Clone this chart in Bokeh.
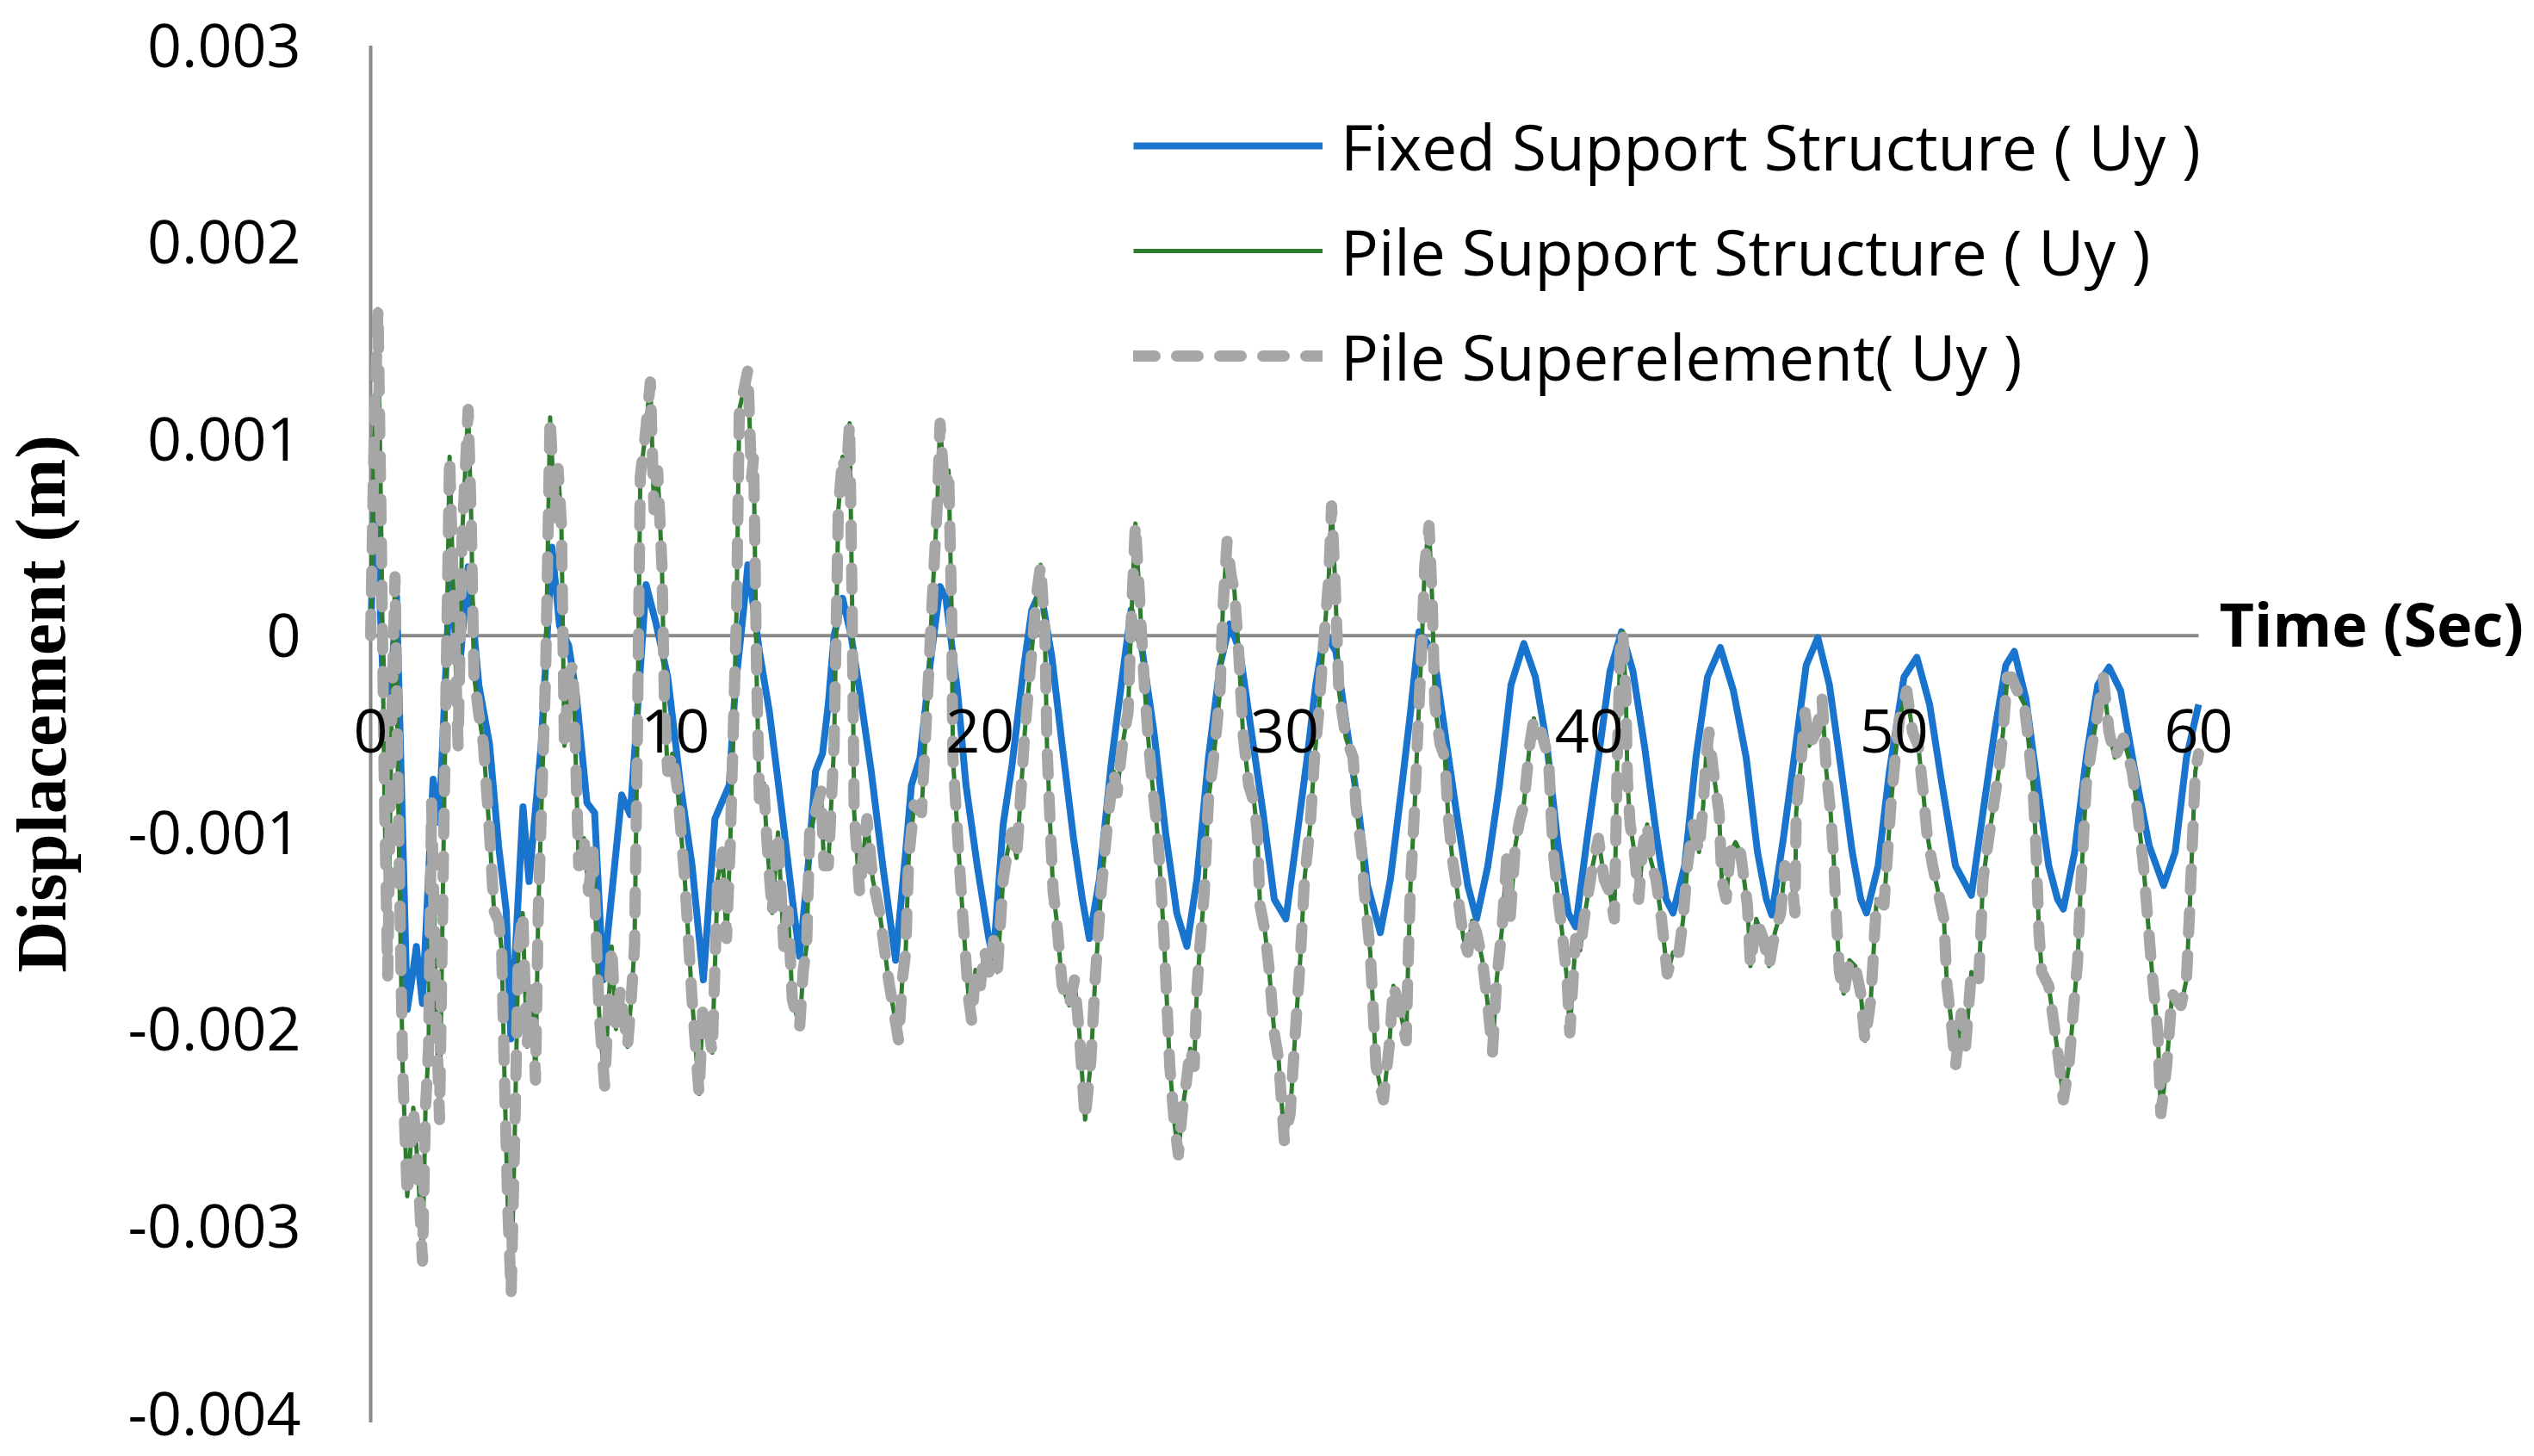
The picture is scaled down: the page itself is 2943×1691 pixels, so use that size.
from bokeh.plotting import figure
from bokeh.models import Legend, LegendItem, Range1d
from bokeh.core.properties import value
from bokeh.embed import file_html
from bokeh.resources import INLINE

# ---------------- data ----------------
x_ticks = [0, 10, 20, 30, 40, 50, 60]
x_tick_labels = ["0", "10", "20", "30", "40", "50", "60"]
y_ticks = [-0.004, -0.003, -0.002, -0.001, 0.0, 0.001, 0.002, 0.003]
y_tick_labels = ["-0.004", "-0.003", "-0.002", "-0.001", "0", "0.001", "0.002", "0.003"]

fixed_t = [0.00, 0.15, 0.40, 0.65, 0.85, 1.05, 1.20, 1.35, 1.50, 1.70, 2.05, 2.25, 2.60, 2.90,
           3.20, 3.55, 3.90, 4.20, 4.45, 4.60, 5.00, 5.20, 5.60, 5.95, 6.20, 6.50, 6.75, 7.10,
           7.35, 7.63, 8.24, 8.52, 8.75, 9.04, 9.37, 9.75, 10.17, 10.55, 10.92, 11.30, 11.77,
           11.96, 12.24, 12.38, 12.76, 13.09, 13.47, 13.84, 14.08, 14.36, 14.60, 14.83, 15.02,
           15.21, 15.49, 15.77, 16.05, 16.43, 16.81, 17.23, 17.56, 17.75, 18.03, 18.36, 18.69,
           18.88, 19.26, 19.54, 19.91, 20.29, 20.43, 20.76, 21.05, 21.42, 21.70, 21.99, 22.36,
           22.70, 23.07, 23.36, 23.59, 23.92, 24.30, 24.67, 24.96, 25.33, 25.71, 26.09, 26.46,
           26.79, 27.12, 27.50, 27.88, 28.20, 28.53, 28.91, 29.29, 29.66, 30.04, 30.36, 30.74,
           31.02, 31.31, 31.68, 32.06, 32.44, 32.72, 33.14, 33.47, 33.85, 34.13, 34.41, 34.88,
           35.26, 35.64, 36.01, 36.30, 36.67, 37.05, 37.43, 37.85, 38.23, 38.61, 38.98, 39.31,
           39.55, 39.93, 40.30, 40.68, 41.06, 41.43, 41.81, 42.19, 42.52, 42.75, 43.13, 43.50,
           43.88, 44.30, 44.73, 45.15, 45.52, 45.81, 45.99, 46.37, 46.75, 47.12, 47.50, 47.88,
           48.25, 48.63, 48.91, 49.10, 49.48, 49.85, 50.33, 50.75, 51.17, 51.55, 52.02, 52.54,
           52.92, 53.30, 53.67, 53.95, 54.33, 54.71, 55.08, 55.37, 55.56, 55.93, 56.31, 56.69,
           57.06, 57.44, 57.91, 58.38, 58.85, 59.23, 59.60, 60.00]
fixed_uy = [0.00000, 0.00080, -0.00020, -0.00030, 0.00020, -0.00100, -0.00190, -0.00175, -0.00158,
            -0.00187, -0.00073, -0.00095, 0.00030, -0.00020, 0.00035, -0.00025, -0.00055, -0.00107,
            -0.00140, -0.00205, -0.00087, -0.00125, -0.00055, 0.00045, 0.00005, -0.00005, -0.00030,
            -0.00085, -0.00090, -0.00175, -0.00081, -0.00091, -0.00040, 0.00026, 0.00006, -0.00021,
            -0.00076, -0.00117, -0.00175, -0.00093, -0.00076, -0.00028, 0.00013, 0.00036, -0.00008,
            -0.00039, -0.00086, -0.00134, -0.00163, -0.00117, -0.00069, -0.00060, -0.00035, 0.00000,
            0.00019, 0.00000, -0.00028, -0.00069, -0.00117, -0.00165, -0.00110, -0.00076, -0.00062,
            -0.00015, 0.00025, 0.00019, -0.00028, -0.00076, -0.00117, -0.00154, -0.00165, -0.00096,
            -0.00066, -0.00018, 0.00013, 0.00023, -0.00011, -0.00056, -0.00103, -0.00134, -0.00154,
            -0.00124, -0.00066, -0.00021, 0.00013, -0.00008, -0.00049, -0.00100, -0.00141, -0.00158,
            -0.00124, -0.00062, -0.00015, 0.00006, -0.00008, -0.00049, -0.00090, -0.00134, -0.00144,
            -0.00107, -0.00062, -0.00025, 0.00002, -0.00008, -0.00049, -0.00090, -0.00127, -0.00151,
            -0.00124, -0.00076, -0.00039, 0.00002, -0.00008, -0.00049, -0.00090, -0.00127, -0.00144,
            -0.00117, -0.00076, -0.00025, -0.00004, -0.00021, -0.00056, -0.00107, -0.00141, -0.00148,
            -0.00103, -0.00062, -0.00018, 0.00002, -0.00018, -0.00056, -0.00100, -0.00134, -0.00141,
            -0.00117, -0.00062, -0.00021, -0.00006, -0.00028, -0.00062, -0.00110, -0.00134, -0.00142,
            -0.00103, -0.00059, -0.00015, -0.00001, -0.00025, -0.00066, -0.00110, -0.00134, -0.00141,
            -0.00117, -0.00069, -0.00021, -0.00011, -0.00035, -0.00073, -0.00117, -0.00132, -0.00090,
            -0.00049, -0.00015, -0.00008, -0.00032, -0.00076, -0.00117, -0.00134, -0.00139, -0.00110,
            -0.00062, -0.00025, -0.00016, -0.00028, -0.00069, -0.00107, -0.00127, -0.00110, -0.00062,
            -0.00035]

pile_t = [0.00, 0.10, 0.24, 0.35, 0.45, 0.56, 0.68, 0.80, 0.92, 1.05, 1.20, 1.40, 1.55, 1.70, 1.80,
          1.90, 2.00, 2.15, 2.26, 2.40, 2.59, 2.72, 2.87, 3.00, 3.20, 3.30, 3.39, 3.55, 3.70, 3.90,
          4.05, 4.20, 4.30, 4.40, 4.50, 4.61, 4.72, 4.85, 4.99, 5.13, 5.30, 5.41, 5.50, 5.62, 5.74,
          5.89, 6.05, 6.15, 6.26, 6.36, 6.50, 6.64, 6.83, 7.00, 7.15, 7.30, 7.50, 7.68, 7.80, 7.91,
          8.05, 8.20, 8.43, 8.55, 8.66, 8.75, 8.85, 9.00, 9.18, 9.30, 9.42, 9.56, 9.65, 9.75, 9.90,
          10.08, 10.31, 10.55, 10.78, 10.90, 11.02, 11.21, 11.39, 11.55, 11.68, 11.80, 12.01, 12.10,
          12.25, 12.38, 12.50, 12.57, 12.67, 12.76, 12.90, 13.00, 13.18, 13.37, 13.56, 13.70, 13.84,
          14.08, 14.20, 14.31, 14.41, 14.60, 14.78, 14.88, 15.02, 15.21, 15.35, 15.49, 15.60, 15.72,
          15.80, 15.87, 16.05, 16.29, 16.48, 16.71, 17.00, 17.33, 17.45, 17.56, 17.66, 17.84, 18.08,
          18.22, 18.46, 18.60, 18.69, 18.85, 18.97, 19.07, 19.11, 19.26, 19.44, 19.63, 19.73, 19.85,
          20.01, 20.15, 20.29, 20.45, 20.57, 20.76, 20.90, 21.05, 21.20, 21.30, 21.47, 21.70, 21.85,
          21.99, 22.13, 22.20, 22.30, 22.40, 22.51, 22.70, 22.93, 23.10, 23.26, 23.45, 23.64, 23.78,
          23.97, 24.20, 24.39, 24.50, 24.67, 24.86, 24.96, 25.10, 25.24, 25.38, 25.52, 25.66, 25.80,
          25.90, 26.04, 26.13, 26.23, 26.37, 26.51, 26.65, 26.75, 26.90, 27.03, 27.12, 27.22, 27.36,
          27.50, 27.64, 27.75, 27.88, 27.97, 28.11, 28.25, 28.35, 28.49, 28.63, 28.82, 29.00, 29.10,
          29.19, 29.35, 29.48, 29.66, 29.80, 29.99, 30.18, 30.32, 30.51, 30.65, 30.84, 30.98, 31.12,
          31.26, 31.45, 31.54, 31.64, 31.72, 31.78, 32.01, 32.25, 32.34, 32.53, 32.62, 32.81, 32.91,
          33.00, 33.24, 33.43, 33.57, 33.70, 33.85, 33.99, 34.05, 34.13, 34.27, 34.37, 34.51, 34.60,
          34.74, 34.84, 34.93, 35.10, 35.26, 35.36, 35.50, 35.64, 35.87, 36.01, 36.15, 36.30, 36.49,
          36.67, 36.82, 36.96, 37.14, 37.29, 37.40, 37.57, 37.70, 37.85, 38.04, 38.18, 38.30, 38.42,
          38.66, 38.80, 38.98, 39.13, 39.27, 39.36, 39.55, 39.70, 39.83, 40.11, 40.30, 40.49, 40.68,
          40.82, 40.92, 41.01, 41.10, 41.20, 41.25, 41.34, 41.48, 41.62, 41.76, 41.90, 42.00, 42.19,
          42.37, 42.56, 42.75, 42.94, 43.08, 43.22, 43.41, 43.60, 43.74, 43.83, 43.93, 44.07, 44.26,
          44.35, 44.49, 44.63, 44.80, 44.96, 45.19, 45.29, 45.48, 45.71, 45.90, 46.09, 46.28, 46.42,
          46.65, 46.75, 46.79, 46.94, 47.08, 47.22, 47.45, 47.64, 47.78, 47.92, 48.02, 48.11, 48.21,
          48.35, 48.54, 48.73, 48.91, 49.05, 49.24, 49.34, 49.43, 49.67, 49.76, 49.90, 50.04, 50.18,
          50.42, 50.61, 50.80, 50.98, 51.08, 51.27, 51.46, 51.64, 51.74, 51.88, 52.02, 52.21, 52.35,
          52.54, 52.78, 52.87, 52.92, 53.11, 53.30, 53.44, 53.58, 53.72, 53.86, 54.05, 54.28, 54.43,
          54.57, 54.66, 54.76, 54.85, 55.08, 55.23, 55.41, 55.56, 55.74, 55.88, 56.03, 56.12, 56.22,
          56.31, 56.50, 56.69, 56.87, 57.06, 57.25, 57.53, 57.82, 58.00, 58.19, 58.33, 58.47, 58.66,
          58.76, 58.95, 59.13, 59.42, 59.60, 59.70, 59.79, 59.89, 60.00]
pile_uy = [0.00000, 0.00090, 0.00166, 0.00050, -0.00080, -0.00173, -0.00050, 0.00030, -0.00100,
           -0.00220, -0.00285, -0.00240, -0.00270, -0.00318, -0.00240, -0.00210, -0.00085, -0.00190,
           -0.00246, -0.00100, 0.00091, 0.00020, -0.00056, 0.00050, 0.00115, 0.00060, -0.00020,
           -0.00040, -0.00055, -0.00100, -0.00140, -0.00145, -0.00160, -0.00230, -0.00290, -0.00335,
           -0.00260, -0.00160, -0.00141, -0.00209, -0.00180, -0.00226, -0.00141, -0.00080, -0.00021,
           0.00111, 0.00060, 0.00085, 0.00057, -0.00056, -0.00020, -0.00015, -0.00117, -0.00103,
           -0.00130, -0.00110, -0.00192, -0.00229, -0.00190, -0.00158, -0.00200, -0.00180, -0.00209,
           -0.00185, -0.00158, -0.00056, 0.00081, 0.00100, 0.00129, 0.00064, 0.00084, 0.00036,
           -0.00039, -0.00069, -0.00060, -0.00079, -0.00124, -0.00185, -0.00233, -0.00190, -0.00192,
           -0.00212, -0.00124, -0.00110, -0.00154, -0.00107, 0.00013, 0.00115, 0.00125, 0.00135,
           0.00080, 0.00091, -0.00021, -0.00083, -0.00075, -0.00103, -0.00141, -0.00100, -0.00158,
           -0.00140, -0.00185, -0.00199, -0.00170, -0.00158, -0.00100, -0.00090, -0.00079, -0.00117,
           -0.00117, -0.00056, 0.00064, 0.00091, 0.00080, 0.00108, 0.00020, -0.00090, -0.00131,
           -0.00093, -0.00124, -0.00141, -0.00175, -0.00206, -0.00175, -0.00161, -0.00113, -0.00086,
           -0.00090, -0.00049, 0.00026, 0.00067, 0.00108, 0.00070, 0.00084, 0.00013, -0.00062,
           -0.00100, -0.00144, -0.00185, -0.00196, -0.00170, -0.00178, -0.00160, -0.00171, -0.00155,
           -0.00171, -0.00124, -0.00110, -0.00100, -0.00113, -0.00090, -0.00049, -0.00008, 0.00020,
           0.00036, 0.00002, -0.00056, -0.00095, -0.00130, -0.00144, -0.00178, -0.00188, -0.00175,
           -0.00202, -0.00246, -0.00216, -0.00175, -0.00131, -0.00093, -0.00069, -0.00080, -0.00056,
           -0.00039, 0.00006, 0.00057, 0.00019, -0.00021, -0.00052, -0.00076, -0.00096, -0.00117,
           -0.00154, -0.00185, -0.00219, -0.00246, -0.00264, -0.00240, -0.00230, -0.00210, -0.00219,
           -0.00180, -0.00158, -0.00131, -0.00083, -0.00066, -0.00050, -0.00028, 0.00013, 0.00048,
           0.00030, 0.00023, -0.00008, -0.00049, -0.00076, -0.00085, -0.00100, -0.00137, -0.00150,
           -0.00168, -0.00202, -0.00215, -0.00257, -0.00243, -0.00209, -0.00165, -0.00124, -0.00096,
           -0.00062, -0.00039, -0.00008, 0.00030, 0.00066, 0.00033, 0.00000, -0.00028, -0.00052,
           -0.00062, -0.00086, -0.00110, -0.00131, -0.00161, -0.00192, -0.00219, -0.00236, -0.00209,
           -0.00178, -0.00185, -0.00195, -0.00206, -0.00168, -0.00127, -0.00086, -0.00049, -0.00001,
           0.00036, 0.00056, 0.00019, -0.00035, -0.00055, -0.00062, -0.00090, -0.00113, -0.00127,
           -0.00154, -0.00161, -0.00145, -0.00151, -0.00165, -0.00188, -0.00212, -0.00175, -0.00148,
           -0.00113, -0.00144, -0.00107, -0.00095, -0.00086, -0.00056, -0.00042, -0.00050, -0.00049,
           -0.00062, -0.00107, -0.00134, -0.00154, -0.00175, -0.00202, -0.00154, -0.00160, -0.00144,
           -0.00117, -0.00103, -0.00124, -0.00131, -0.00144, -0.00062, -0.00008, 0.00002, -0.00030,
           -0.00073, -0.00096, -0.00110, -0.00134, -0.00107, -0.00096, -0.00113, -0.00124, -0.00144,
           -0.00172, -0.00161, -0.00161, -0.00144, -0.00117, -0.00096, -0.00110, -0.00086, -0.00062,
           -0.00049, -0.00069, -0.00090, -0.00124, -0.00134, -0.00110, -0.00105, -0.00110, -0.00137,
           -0.00168, -0.00144, -0.00154, -0.00168, -0.00151, -0.00141, -0.00117, -0.00124, -0.00141,
           -0.00090, -0.00066, -0.00039, -0.00056, -0.00049, -0.00032, -0.00069, -0.00090, -0.00113,
           -0.00144, -0.00171, -0.00182, -0.00165, -0.00168, -0.00182, -0.00206, -0.00185, -0.00158,
           -0.00134, -0.00137, -0.00117, -0.00086, -0.00062, -0.00042, -0.00028, -0.00049, -0.00056,
           -0.00083, -0.00100, -0.00117, -0.00131, -0.00144, -0.00178, -0.00196, -0.00219, -0.00192,
           -0.00209, -0.00171, -0.00175, -0.00144, -0.00124, -0.00103, -0.00083, -0.00069, -0.00049,
           -0.00021, -0.00021, -0.00028, -0.00035, -0.00056, -0.00079, -0.00107, -0.00151, -0.00171,
           -0.00178, -0.00195, -0.00216, -0.00236, -0.00219, -0.00192, -0.00165, -0.00131, -0.00103,
           -0.00076, -0.00056, -0.00039, -0.00021, -0.00049, -0.00062, -0.00052, -0.00069, -0.00090,
           -0.00117, -0.00144, -0.00171, -0.00202, -0.00243, -0.00219, -0.00182, -0.00188, -0.00175,
           -0.00141, -0.00107, -0.00069, -0.00060]
superelement_t = list(pile_t)
superelement_uy = list(pile_uy)

series_names = ["Fixed Support Structure ( Uy )", "Pile Support Structure ( Uy )",
                "Pile Superelement( Uy )"]
x_title = "Time (Sec)"
y_title = "Displacement (m)"

# ---------------- layout (pixel geometry of the plot area) ----------------
W, H = 2935, 1691
PX_X0, PX_X60 = 430.0, 2553.0          # pixel columns of t = 0 and t = 60
PX_YTOP, PX_YBOT = 52.5, 1651.5        # pixel rows of y = 0.003 and y = -0.004
sx = (PX_X60 - PX_X0) / (x_ticks[-1] - x_ticks[0])
sy = (PX_YBOT - PX_YTOP) / (y_ticks[-1] - y_ticks[0])
x_start = x_ticks[0] - PX_X0 / sx
x_end = x_ticks[-1] + (W - PX_X60) / sx
y_end = y_ticks[-1] + PX_YTOP / sy
y_start = y_ticks[0] - (H - PX_YBOT) / sy

p = figure(width=W, height=H, output_backend="svg", toolbar_location=None,
           x_range=Range1d(x_start, x_end), y_range=Range1d(y_start, y_end),
           x_axis_type=None, y_axis_type=None, min_border=0,
           min_border_left=0, min_border_right=0, min_border_top=0, min_border_bottom=0)
p.outline_line_color = None
p.background_fill_color = "white"
p.border_fill_color = "white"

AX = "#898989"
FONT = "Open Sans"
# axis lines: y axis at t = 0, x axis crossing at y = 0
p.segment(x0=[x_ticks[0]], y0=[y_ticks[0]], x1=[x_ticks[0]], y1=[y_ticks[-1]],
          line_color=AX, line_width=4)
p.segment(x0=[x_ticks[0]], y0=[0.0], x1=[x_ticks[-1]], y1=[0.0], line_color=AX, line_width=4)

r_fixed = p.line(fixed_t, fixed_uy, line_color="#1874CD", line_width=8, line_join="round")
r_pile = p.line(pile_t, pile_uy, line_color="#2E7D2E", line_width=5, line_join="round")
r_super = p.line(superelement_t, superelement_uy, line_color="#A6A6A6", line_width=13,
                 line_dash="25 25", line_cap="round", line_join="round")

# tick labels (the lowest one nudged up a little so it stays inside the page)
y_label_nudge = [-10, 0, 0, 0, 0, 0, 0, 0]
p.text(x=[x_ticks[0]] * len(y_ticks), y=y_ticks, text=y_tick_labels, x_offset=-81,
       y_offset=y_label_nudge, text_align="right", text_baseline="middle",
       text_font=value(FONT), text_font_size="70px", text_color="black")
p.text(x=x_ticks, y=[0.0] * len(x_ticks), text=x_tick_labels, y_offset=86,
       text_align="center", text_baseline="top", text_font=value(FONT),
       text_font_size="70px", text_color="black")

# axis titles
p.text(x=[x_ticks[-1]], y=[0.0], text=[x_title], x_offset=24, y_offset=-14,
       text_align="left", text_baseline="middle", text_font=value(FONT),
       text_font_style="bold", text_font_size="70px", text_color="black")
p.text(x=[x_ticks[0] - (PX_X0 - 47) / sx], y=[-(817 - (PX_YTOP + y_ticks[-1] * sy)) / sy],
       text=[y_title], angle=1.5708, text_align="center", text_baseline="middle",
       text_font=value("Liberation Serif"), text_font_style="bold",
       text_font_size="83px", text_color="black")

legend = Legend(items=[LegendItem(label=series_names[0], renderers=[r_fixed]),
                       LegendItem(label=series_names[1], renderers=[r_pile]),
                       LegendItem(label=series_names[2], renderers=[r_super])],
                location=(1316, 1228), orientation="vertical",
                glyph_width=220, glyph_height=100, label_height=100, spacing=22,
                padding=0, margin=0, label_standoff=21,
                label_text_font=FONT, label_text_font_size="73px",
                label_text_color="black", border_line_color=None,
                background_fill_alpha=0)
p.add_layout(legend)

open("out.html", "w").write(file_html(p, INLINE))
